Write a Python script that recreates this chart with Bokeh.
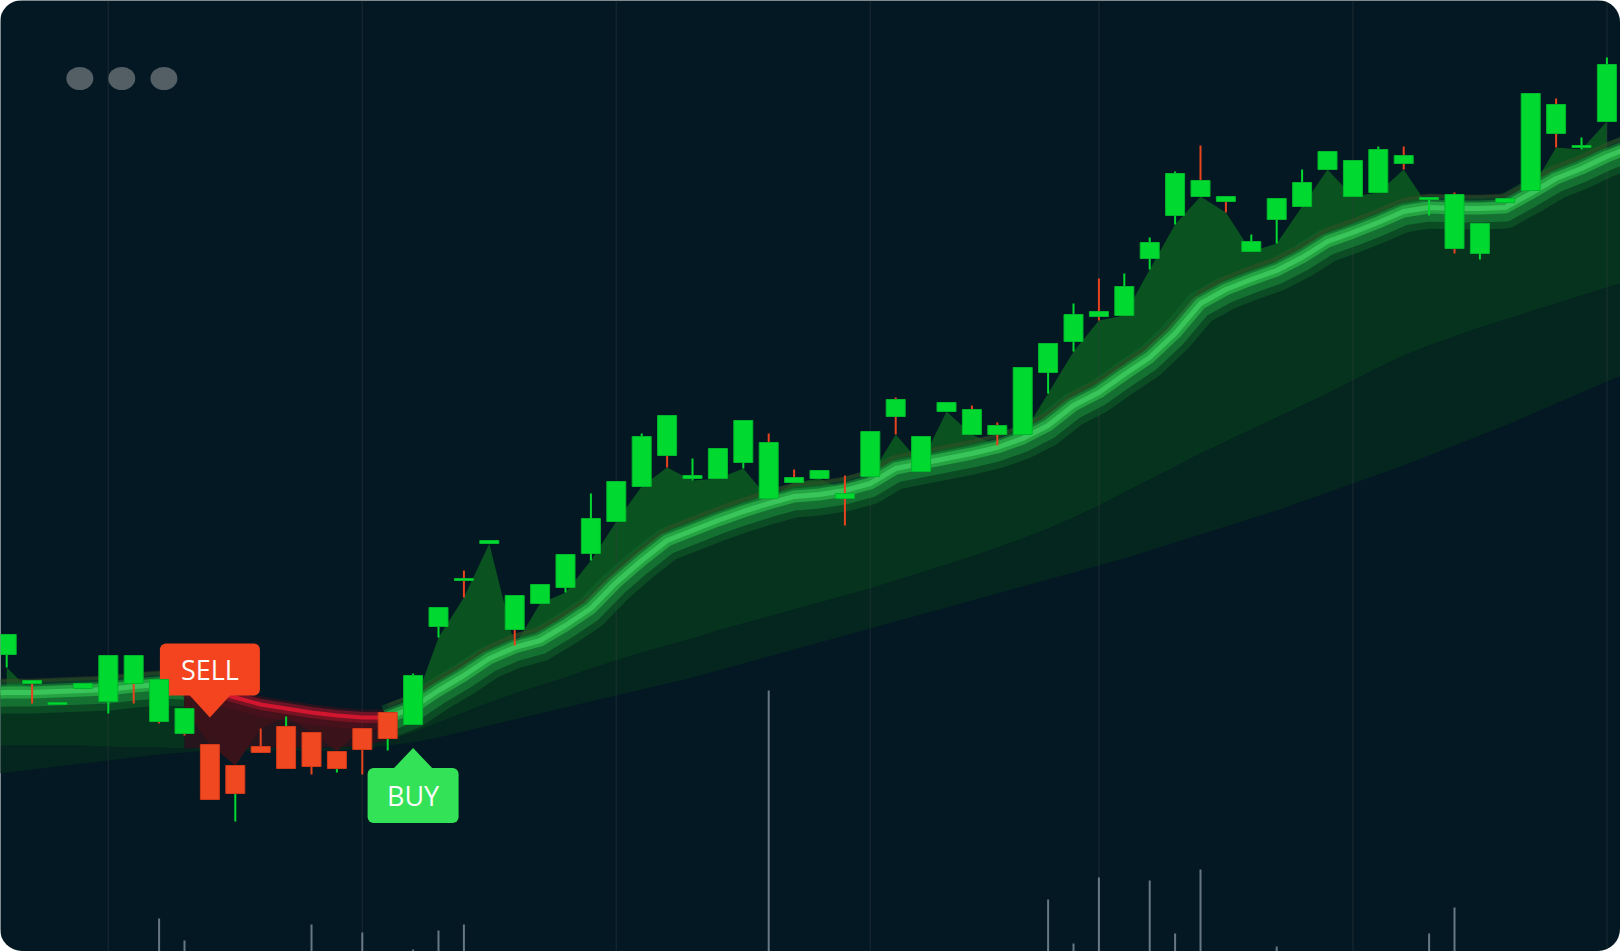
import numpy as np
from bokeh.plotting import figure
from bokeh.models import Range1d
from bokeh.core.properties import value
from bokeh.embed import file_html
from bokeh.resources import INLINE

# ---------------- data (price scale = chart rows, smaller = higher) ----------------
candle_idx = list(range(64))
body_top = [634, 680, 702, 683, 655, 655, 679, 708, 744, 765,
            746, 726, 732, 751, 728, 712, 675, 607, 578, 540,
            595, 584, 554, 518, 481, 436, 415, 475, 448, 420,
            442, 477, 470, 493, 431, 399, 436, 402, 409, 425,
            367, 343, 314, 311, 286, 242, 173, 180, 196, 241,
            198, 182, 151, 160, 149, 155, 197, 194, 223, 198,
            93, 104, 145, 64]
body_bot = [654, 683, 704, 688, 701, 683, 721, 733, 799, 793,
            752, 768, 766, 768, 749, 738, 724, 626, 580, 543,
            629, 603, 587, 553, 521, 486, 455, 478, 478, 462,
            498, 482, 478, 498, 476, 416, 471, 411, 434, 434,
            434, 372, 341, 316, 315, 258, 215, 196, 201, 251,
            219, 206, 169, 196, 192, 163, 199, 248, 253, 202,
            190, 133, 147, 121]
high = [634, 680, 702, 683, 655, 655, 679, 708, 744, 765,
        728, 716, 732, 751, 728, 712, 673, 607, 570, 540,
        595, 584, 554, 493, 481, 433, 415, 458, 448, 420,
        433, 469, 470, 475, 431, 397, 436, 402, 405, 422,
        367, 343, 303, 278, 273, 237, 171, 145, 196, 234,
        198, 169, 151, 160, 146, 146, 197, 192, 223, 198,
        93, 98, 137, 57]
low = [667, 703, 704, 688, 713, 703, 723, 735, 799, 821,
       752, 768, 774, 772, 774, 750, 724, 637, 597, 543,
       645, 603, 592, 560, 521, 486, 467, 480, 478, 468,
       498, 482, 478, 525, 476, 434, 471, 411, 434, 445,
       434, 393, 351, 320, 315, 269, 224, 196, 212, 251,
       243, 206, 169, 196, 192, 169, 215, 253, 259, 202,
       190, 147, 149, 121]
body_kind = ["G"] * 8 + ["R"] * 8 + ["G"] * 48
wick_kind = list("GRGGGRRRRG" "RGRGRGGGRG" "RGGGGGRGGG" "RRGRGRGGRR"
                 "GGGRGGGRRG" "GGGGGRGRGG" "GRGG")

# indicator series (index -1 .. 64, they run past both chart edges)
ind_idx = list(range(-1, 65))
ma_fast = [693,
           692, 692, 691, 690, 689, 686, 684, 685, 690, 697,
           704, 708, 712, 715, 717, 717, 707, 690, 675, 658,
           647, 640, 625, 608, 582, 560, 540, 530, 520, 511,
           503, 496, 494, 490, 483, 468, 463, 458, 453, 447,
           438, 425, 405, 392, 374, 357, 333, 303, 289, 279,
           270, 257, 241, 232, 222, 211, 207, 208, 208, 207,
           193, 178, 168, 156, 146]
slow_upper = [745,
              745, 745, 745, 745, 746, 747, 747, 748, 747, 747,
              747, 747, 747, 747, 745, 740, 732, 722, 712, 702,
              693, 685, 677, 668, 660, 652, 645, 638, 630, 623,
              616, 609, 602, 595, 588, 580, 572, 564, 556, 547,
              538, 528, 517, 505, 492, 479, 466, 453, 441, 429,
              417, 405, 393, 380, 367, 355, 345, 336, 327, 319,
              311, 303, 295, 287, 279]
slow_lower = [775,
              772, 769, 766, 763, 760, 757, 754, 752, 750, 750,
              750, 750, 750, 750, 748, 745, 742, 737, 731, 725,
              719, 713, 707, 701, 695, 689, 683, 677, 670, 663,
              656, 649, 642, 635, 628, 621, 614, 607, 600, 593,
              586, 579, 572, 565, 558, 550, 542, 534, 526, 518,
              510, 501, 492, 483, 474, 465, 455, 445, 435, 425,
              414, 403, 392, 381, 371]
trend = ["up"] * 9 + ["down"] * 8 + ["up"] * 49

vol_idx = [6, 7, 12, 14, 16, 17, 18, 30, 41, 42, 43, 45, 46, 47, 50, 56, 57]
volume = [33, 11, 27, 19, 2, 21, 27, 261, 52, 8, 74, 71, 18, 82, 5, 18, 44]

grid_idx = [4, 14, 24, 34, 43, 53, 63]

signal_idx = [8, 16]
signal_text = ["SELL", "BUY"]
signal_y = [669, 795]
signal_dir = ["down", "up"]

dot_x = [2.88, 4.53, 6.19]
dot_y = [78, 78, 78]

# ---------------- styles ----------------
BG = "#031822"
W, H = 1620, 951
X0, X1 = -0.244, 63.535
Y_BOTTOM, Y_TOP = 951, 0
PX = W / (X1 - X0)
G_BODY, G_LINE = "#00d930", "#00b82b"
R_BODY, R_LINE = "#f04821", "#d33a1a"
G_WICK, R_WICK = "#00d930", "#e8431f"
FAST_UP, FAST_DOWN = "#0a5220", "#3a131a"
MID_UP, MID_DOWN = "#06331e", "#27151e"
SLOW = "#04261f"
RIBBON = {
    "up": [(4, 34, "#136a2e", 0.45), (-12, 4, "#3b4524", 0.45),
           (3, 22, "#1b8a3a", 0.6), (0, 12, "#27a845", 0.9), (0, 5, "#3cc95c", 0.9)],
    "down": [(2, 20, "#5a0e1c", 0.4), (0, 11, "#8a1428", 0.7), (0, 4, "#d3162f", 1.0)],
}
SIG = {"SELL": dict(color="#f4441f", w=100, h=52, ph=22, pw=21),
       "BUY": dict(color="#33e257", w=91, h=55, ph=20, pw=20)}

p = figure(width=W, height=H, x_range=Range1d(X0, X1), y_range=Range1d(Y_BOTTOM, Y_TOP),
           output_backend="svg", toolbar_location=None,
           x_axis_location=None, y_axis_location=None, min_border=0,
           background_fill_color=BG, border_fill_color=BG, outline_line_color=None,
           styles={"border-radius": "22px", "overflow": "hidden"})
p.grid.grid_line_color = None


def runs(tr):
    out, start = [], 0
    for i in range(1, len(tr) + 1):
        if i == len(tr) or tr[i] != tr[start]:
            out.append((tr[start], max(start - 1, 0), i - 1))
            start = i
    return out


segs = runs(trend)  # positions in the indicator lists

# slow band
p.varea(x=ind_idx, y1=slow_upper, y2=slow_lower, fill_color=SLOW)
# mid cloud
for kind, a, b in segs:
    p.varea(x=ind_idx[a:b + 1], y1=ma_fast[a:b + 1], y2=slow_upper[a:b + 1],
            fill_color=MID_UP if kind == "up" else MID_DOWN)
# fast cloud (price extremes vs fast average)
for kind, a, b in segs:
    ca, cb = max(a - 1, 0), min(b - 1, 63)
    xs = candle_idx[ca:cb + 1]
    ma = ma_fast[ca + 1:cb + 2]
    if kind == "up":
        edge_y = [min(l, m) for l, m in zip(low[ca:cb + 1], ma)]
        p.varea(x=xs, y1=ma, y2=edge_y, fill_color=FAST_UP)
    else:
        p.varea(x=xs, y1=ma, y2=high[ca:cb + 1], fill_color=FAST_DOWN)

# vertical grid
p.segment(x0=grid_idx, x1=grid_idx, y0=Y_BOTTOM, y1=Y_TOP,
          line_color="#3b4046", line_alpha=0.3, line_width=1.5)

# volume
vol_top = [Y_BOTTOM - v for v in volume]
p.vbar(x=vol_idx, top=vol_top, bottom=Y_BOTTOM, width=2 / PX,
       fill_color="#8a98a5", line_color=None, fill_alpha=0.75)

# ribbon
for kind, a, b in segs:
    xs = ind_idx[a:b + 1]
    ys = np.array(ma_fast[a:b + 1], dtype=float)
    for off, lw, col, al in RIBBON[kind]:
        p.line(xs, ys + off, line_width=lw, line_color=col, line_alpha=al,
               line_join="round", line_cap="butt")

# signal boxes + pointers
for i, t, cy, d in zip(signal_idx, signal_text, signal_y, signal_dir):
    s = SIG[t]
    hw = s["w"] / 2 / PX
    p.quad(left=[i - hw], right=[i + hw], top=[cy - s["h"] / 2], bottom=[cy + s["h"] / 2],
           fill_color=s["color"], line_color=None, border_radius=6)
    pw = s["pw"] / PX
    if d == "down":
        base = cy + s["h"] / 2 - 1
        tip = cy + s["h"] / 2 + s["ph"]
    else:
        base = cy - s["h"] / 2 + 1
        tip = cy - s["h"] / 2 - s["ph"]
    p.patch([i - pw, i + pw, i], [base, base, tip], fill_color=s["color"], line_color=None)

# candles
wick_colors = [G_WICK if k == "G" else R_WICK for k in wick_kind]
p.segment(x0=candle_idx, x1=candle_idx, y0=high, y1=low, line_color=wick_colors, line_width=2)
fill = [G_BODY if k == "G" else R_BODY for k in body_kind]
edge = [G_LINE if k == "G" else R_LINE for k in body_kind]
BW = 19 / PX / 2
p.quad(left=[i - BW for i in candle_idx], right=[i + BW for i in candle_idx],
       top=body_top, bottom=body_bot, fill_color=fill, line_color=edge, line_width=1)

# signal texts
p.text(x=signal_idx, y=signal_y, text=signal_text, text_font=value("Open Sans"),
       text_font_size="27px", text_color="#fbfbfb", text_align="center",
       text_baseline="middle")

# window dots
p.ellipse(x=dot_x, y=dot_y, width=27, height=23, width_units="screen",
          height_units="screen", fill_color="#535e65", line_color=None)

open("out.html", "w").write(file_html(p, INLINE))
